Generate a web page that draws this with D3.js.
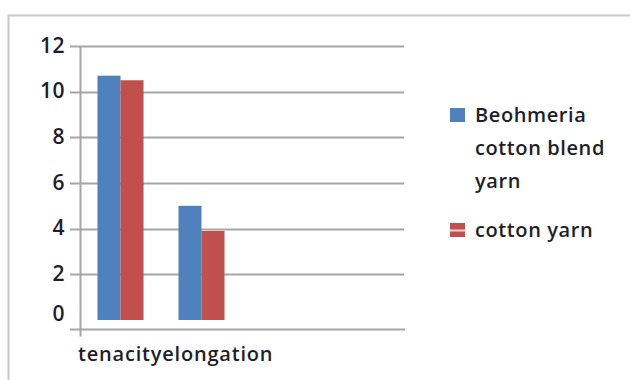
<!DOCTYPE html>
<html>
<head>
<meta charset="utf-8">
<script src="https://cdn.jsdelivr.net/npm/d3@7/dist/d3.min.js"></script>
<style>
  html, body { margin: 0; padding: 0; background: #fff; }
  svg { display: block; }
  text { font-family: "Open Sans", "Noto Sans", sans-serif; fill: #1e1e2a; font-weight: 600; }
</style>
</head>
<body>
<svg id="chart" width="630" height="380"></svg>
<script>
// Categories on the x axis (the last two slots are left empty)
const categories = ["tenacity", "elongation", "", ""];
// Series values per category
const blendValues = [10.7, 5.0, null, null];
const cottonValues = [10.5, 3.9, null, null];
const seriesNames = ["Beohmeria cotton blend yarn", "cotton yarn"];
const legendLines = [["Beohmeria", "cotton blend", "yarn"], ["cotton yarn"]];
const yTicks = [0, 2, 4, 6, 8, 10, 12];

const colors = ["#4f81bd", "#c0504d"];
const gridColor = "#a6a6a6";

const svg = d3.select("#chart");

// outer frame (top and left edges visible)
svg.append("path")
  .attr("d", "M8.5,380 V15.5 H630")
  .attr("fill", "none")
  .attr("stroke", "#c8c8c8")
  .attr("stroke-width", 2);

const plot = { left: 80, right: 404, top: 46, bottom: 320 };

const x0 = d3.scaleBand()
  .domain(d3.range(categories.length))
  .range([plot.left, plot.right])
  .paddingInner(0)
  .paddingOuter(0);

const x1 = d3.scaleBand()
  .domain([0, 1])
  .range([0, x0.bandwidth()])
  .paddingInner(0)
  .paddingOuter(0.76);

const y = d3.scaleLinear()
  .domain([0, 12])
  .range([plot.bottom, plot.top]);

// horizontal gridlines with small ticks left of the axis
svg.append("g")
  .selectAll("line")
  .data(yTicks.filter(d => d > 0))
  .join("line")
  .attr("x1", plot.left - 10)
  .attr("x2", plot.right)
  .attr("y1", d => Math.round(y(d)) + 0.5)
  .attr("y2", d => Math.round(y(d)) + 0.5)
  .attr("stroke", gridColor)
  .attr("stroke-width", 2);

// y tick labels
svg.append("g")
  .selectAll("text")
  .data(yTicks)
  .join("text")
  .attr("x", 65)
  .attr("y", d => y(d) + (d === 0 ? -5 : 1))
  .attr("text-anchor", "end")
  .attr("dominant-baseline", "middle")
  .attr("font-size", 21)
  .attr("letter-spacing", 0.5)
  .text(d => d);

// bars
const groups = svg.append("g")
  .selectAll("g")
  .data(categories.map((c, i) => ({ i, vals: [blendValues[i], cottonValues[i]] })))
  .join("g")
  .attr("transform", d => `translate(${x0(d.i)},0)`);

groups.selectAll("rect")
  .data(d => d.vals.map((v, s) => ({ v, s })).filter(e => e.v != null))
  .join("rect")
  .attr("x", e => x1(e.s))
  .attr("width", x1.bandwidth())
  .attr("y", e => y(e.v))
  .attr("height", e => y(0) - y(e.v))
  .attr("fill", e => colors[e.s]);

// axis lines
const axisBase = plot.bottom + 9.5;
svg.append("line")
  .attr("x1", plot.left - 10).attr("x2", plot.right + 1)
  .attr("y1", axisBase).attr("y2", axisBase)
  .attr("stroke", gridColor).attr("stroke-width", 2);
svg.append("line")
  .attr("x1", plot.left + 0.5).attr("x2", plot.left + 0.5)
  .attr("y1", plot.top).attr("y2", axisBase + 7)
  .attr("stroke", gridColor).attr("stroke-width", 2);

// category labels, run together as one line
const xl = svg.append("text")
  .attr("x", 78)
  .attr("y", 361)
  .attr("font-size", 20)
  .attr("letter-spacing", 0.8);
xl.selectAll("tspan")
  .data(categories.filter(c => c))
  .join("tspan")
  .text(c => c);

// legend
const legend = svg.append("g");
const legendTop = [122, 237];
legendLines.forEach((lines, s) => {
  const g = legend.append("g");
  g.append("rect")
    .attr("x", 450).attr("y", legendTop[s] - 14)
    .attr("width", 15).attr("height", 14)
    .attr("fill", colors[s]);
  if (s === 1) {
    g.append("line")
      .attr("x1", 450).attr("x2", 465)
      .attr("y1", legendTop[s] - 6.5).attr("y2", legendTop[s] - 6.5)
      .attr("stroke", "#f2d6d5").attr("stroke-width", 2);
  }
  g.append("text")
    .attr("font-size", 20)
    .attr("letter-spacing", 0.6)
    .selectAll("tspan")
    .data(lines)
    .join("tspan")
    .attr("x", 475)
    .attr("y", (d, k) => legendTop[s] + k * 33)
    .text(d => d);
});
</script>
</body>
</html>
